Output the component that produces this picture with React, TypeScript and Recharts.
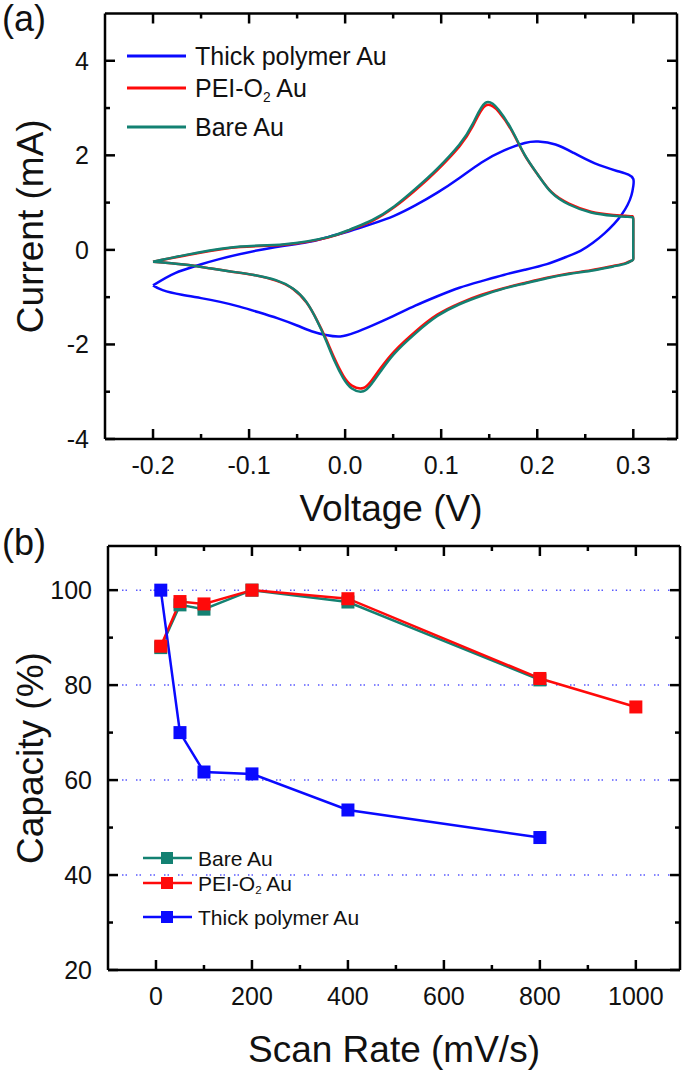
import React from 'react';
import { LineChart, Line, XAxis, YAxis, ReferenceLine, Legend, Label } from 'recharts';

const FONT = '"Liberation Sans", Arial, sans-serif';

const BLUE = '#0a0aff';
const RED = '#ff0a0a';
const TEAL = '#138172';

// (a) cyclic voltammograms, [voltage (V), current (mA)] in scan order round each loop
const thickCV: [number, number][] = [
  [-0.2, -0.75], [-0.177, -0.49], [-0.154, -0.33], [-0.132, -0.2], [-0.086, 0.01], [-0.04, 0.16],
  [-0.018, 0.27], [0.005, 0.4], [0.028, 0.55], [0.051, 0.72], [0.073, 0.94], [0.096, 1.21],
  [0.119, 1.52], [0.142, 1.85], [0.165, 2.1], [0.187, 2.26], [0.201, 2.29], [0.219, 2.23],
  [0.238, 2.05], [0.26, 1.83], [0.283, 1.67], [0.295, 1.59], [0.3, 1.5], [0.3, 1.35], [0.298, 1.15],
  [0.294, 0.95], [0.288, 0.75], [0.28, 0.55], [0.27, 0.35], [0.258, 0.15], [0.245, -0.02],
  [0.23, -0.15], [0.21, -0.3], [0.187, -0.42], [0.165, -0.53], [0.142, -0.66], [0.119, -0.8],
  [0.096, -0.98], [0.073, -1.18], [0.05, -1.4], [0.028, -1.6], [0.01, -1.75], [-0.005, -1.83],
  [-0.02, -1.8], [-0.035, -1.72], [-0.05, -1.6], [-0.07, -1.45], [-0.09, -1.32], [-0.11, -1.2],
  [-0.13, -1.1], [-0.15, -1.02], [-0.17, -0.95], [-0.19, -0.85], [-0.2, -0.75],
];

const peiCV: [number, number][] = [
  [-0.2, -0.25], [-0.154, -0.07], [-0.109, 0.06], [-0.063, 0.11], [-0.018, 0.26], [0.005, 0.42],
  [0.028, 0.61], [0.051, 0.9], [0.073, 1.26], [0.096, 1.69], [0.119, 2.19], [0.133, 2.62],
  [0.146, 3.05], [0.16, 2.92], [0.174, 2.5], [0.187, 2.0], [0.201, 1.58], [0.215, 1.22],
  [0.233, 0.98], [0.256, 0.81], [0.279, 0.74], [0.292, 0.72], [0.299, 0.71], [0.3, 0.6],
  [0.3, 0.2], [0.3, -0.15], [0.299, -0.22], [0.292, -0.28], [0.279, -0.34],
  [0.256, -0.43], [0.233, -0.5], [0.21, -0.59], [0.187, -0.7], [0.165, -0.81], [0.142, -0.95],
  [0.119, -1.13], [0.096, -1.37], [0.073, -1.73], [0.051, -2.15], [0.037, -2.5], [0.028, -2.75],
  [0.019, -2.92], [0.007, -2.87], [-0.002, -2.66], [-0.011, -2.3], [-0.02, -1.88], [-0.029, -1.5],
  [-0.04, -1.12], [-0.054, -0.83], [-0.072, -0.65], [-0.095, -0.53], [-0.118, -0.46],
  [-0.141, -0.39], [-0.168, -0.31], [-0.2, -0.25],
];

const bareCV: [number, number][] = [
  [-0.2, -0.25], [-0.154, -0.06], [-0.109, 0.07], [-0.063, 0.12], [-0.018, 0.27], [0.005, 0.43],
  [0.028, 0.63], [0.051, 0.92], [0.073, 1.29], [0.096, 1.72], [0.119, 2.23], [0.133, 2.67],
  [0.146, 3.11], [0.16, 2.96], [0.174, 2.52], [0.187, 2.01], [0.201, 1.58], [0.215, 1.21],
  [0.233, 0.96], [0.256, 0.79], [0.279, 0.72], [0.292, 0.7], [0.299, 0.69], [0.3, 0.58],
  [0.3, 0.2], [0.3, -0.15], [0.299, -0.22], [0.292, -0.29], [0.279, -0.35],
  [0.256, -0.44], [0.233, -0.51], [0.21, -0.6], [0.187, -0.71], [0.165, -0.82], [0.142, -0.97],
  [0.119, -1.15], [0.096, -1.4], [0.073, -1.77], [0.051, -2.2], [0.037, -2.57], [0.028, -2.82],
  [0.019, -2.99], [0.007, -2.93], [-0.002, -2.71], [-0.011, -2.35], [-0.02, -1.91], [-0.029, -1.51],
  [-0.04, -1.11], [-0.054, -0.82], [-0.072, -0.64], [-0.095, -0.53], [-0.118, -0.46],
  [-0.141, -0.39], [-0.168, -0.31], [-0.2, -0.25],
];

const CV_X_TICKS = [-0.2, -0.15, -0.1, -0.05, 0, 0.05, 0.1, 0.15, 0.2, 0.25, 0.3];
const CV_Y_TICKS = [-4, -3, -2, -1, 0, 1, 2, 3, 4];

// (b) capacity retention vs scan rate
const scanRates = [10, 50, 100, 200, 400, 800, 1000];
const bareCap = [87.9, 96.9, 96.0, 100, 97.5, 81.1];
const peiCap = [88.2, 97.6, 97.1, 100, 98.2, 81.4, 75.4];
const thickCap = [100, 70.0, 61.7, 61.3, 53.7, 47.9];

const RATE_TICKS = [0, 100, 200, 300, 400, 500, 600, 700, 800, 900, 1000];
const CAP_TICKS = [20, 30, 40, 50, 60, 70, 80, 90, 100];
const GRID_LEVELS = [40, 60, 80, 100];

const toCV = (pts: [number, number][]) => pts.map(([v, i]) => ({ v, i }));
const toCap = (vals: number[]) => vals.map((c, k) => ({ rate: scanRates[k], cap: c }));

type Side = 'bottom' | 'left' | 'top' | 'right';

const makeTick = (side: Side, isMajor: (v: number) => boolean, fmt: ((v: number) => string) | null, fontSize: number) =>
  (props: any) => {
    const { x, y, payload } = props;
    const v = payload.value;
    const len = isMajor(v) ? 10 : 5;
    let line = null;
    let text = null;
    if (side === 'bottom') {
      line = <line x1={x} y1={y} x2={x} y2={y - len} stroke="#000" strokeWidth={2.5} />;
      if (fmt && isMajor(v)) text = <text x={x} y={y + 35} textAnchor="middle" fontSize={fontSize} fontFamily={FONT} fill="#111">{fmt(v)}</text>;
    } else if (side === 'top') {
      line = <line x1={x} y1={y} x2={x} y2={y + len} stroke="#000" strokeWidth={2.5} />;
    } else if (side === 'left') {
      line = <line x1={x} y1={y} x2={x + len} y2={y} stroke="#000" strokeWidth={2.5} />;
      if (fmt && isMajor(v)) text = <text x={x - 16} y={y} dy="0.36em" textAnchor="end" fontSize={fontSize} fontFamily={FONT} fill="#111">{fmt(v)}</text>;
    } else {
      line = <line x1={x} y1={y} x2={x - len} y2={y} stroke="#000" strokeWidth={2.5} />;
    }
    return <g>{line}{text}</g>;
  };

const near = (a: number, step: number) => Math.abs(a / step - Math.round(a / step)) < 1e-6;

const axisLine = { stroke: '#000', strokeWidth: 2.5 };

const Sub = ({ x, y, size, pre, post }: { x: number; y: number; size: number; pre: string; post: string }) => (
  <text x={x} y={y} fontSize={size} fontFamily={FONT} fill="#111" dominantBaseline="central">
    {pre}
    <tspan dy={size * 0.35} fontSize={size * 0.55}>2</tspan>
    <tspan dy={-size * 0.35}>{post}</tspan>
  </text>
);

const CVLegend = () => (
  <svg width={290} height={125} style={{ display: 'block' }}>
    <line x1={0} y1={20} x2={59} y2={20} stroke={BLUE} strokeWidth={3} />
    <text x={68} y={20} fontSize={25} fontFamily={FONT} fill="#111" dominantBaseline="central">Thick polymer Au</text>
    <line x1={0} y1={52} x2={59} y2={52} stroke={RED} strokeWidth={3} />
    <Sub x={68} y={52} size={25} pre="PEI-O" post=" Au" />
    <line x1={0} y1={91} x2={59} y2={91} stroke={TEAL} strokeWidth={3} />
    <text x={68} y={91} fontSize={25} fontFamily={FONT} fill="#111" dominantBaseline="central">Bare Au</text>
  </svg>
);

const CapLegend = () => {
  const rows = [
    { c: TEAL, y: 14 },
    { c: RED, y: 39 },
    { c: BLUE, y: 73 },
  ];
  return (
    <svg width={240} height={92} style={{ display: 'block' }}>
      {rows.map((r) => (
        <g key={r.y}>
          <line x1={0} y1={r.y} x2={49} y2={r.y} stroke={r.c} strokeWidth={2.5} />
          <rect x={18} y={r.y - 6} width={12} height={12} fill={r.c} />
        </g>
      ))}
      <text x={55} y={14} fontSize={21} fontFamily={FONT} fill="#111" dominantBaseline="central">Bare Au</text>
      <Sub x={55} y={39} size={21} pre="PEI-O" post=" Au" />
      <text x={55} y={73} fontSize={21} fontFamily={FONT} fill="#111" dominantBaseline="central">Thick polymer Au</text>
    </svg>
  );
};

const square = (color: string) => (p: any) => (
  <rect key={`sq-${p.index}`} x={p.cx - 6.5} y={p.cy - 6.5} width={13} height={13} fill={color} />
);

export default function App() {
  const cvMajX = (v: number) => near(v, 0.1);
  const cvMajY = (v: number) => near(v, 2);
  const capMajX = (v: number) => near(v, 200);
  const capMajY = (v: number) => near(v, 20);
  return (
    <div style={{ position: 'absolute', left: 0, top: 0, width: 685, height: 1081, background: '#fff' }}>
      <div style={{ position: 'absolute', left: 2, top: -2, fontSize: 36, fontFamily: FONT, color: '#111', lineHeight: '42px' }}>(a)</div>
      <div style={{ position: 'absolute', left: 0, top: 0 }}>
        <LineChart width={685} height={540} margin={{ top: 0, right: 0, bottom: 0, left: 0 }}>
          <XAxis xAxisId="b" dataKey="v" type="number" domain={[-0.25, 0.3455]} allowDataOverflow ticks={CV_X_TICKS}
            interval={0} height={101} tickSize={0} tickMargin={0} tickLine={false} axisLine={axisLine}
            tick={makeTick('bottom', cvMajX, (v) => v.toFixed(1), 25)}>
            <Label content={({ viewBox }: any) => (
              <text x={viewBox.x + viewBox.width / 2} y={viewBox.y + 82} textAnchor="middle" fontSize={37} fontFamily={FONT} fill="#111">Voltage (V)</text>
            )} />
          </XAxis>
          <XAxis xAxisId="t" orientation="top" dataKey="v" type="number" domain={[-0.25, 0.3455]} allowDataOverflow ticks={CV_X_TICKS}
            interval={0} height={13.5} tickSize={0} tickMargin={0} tickLine={false} axisLine={axisLine}
            tick={makeTick('top', cvMajX, null, 25)} />
          <YAxis yAxisId="l" type="number" domain={[-4, 5]} allowDataOverflow ticks={CV_Y_TICKS} interval={0}
            width={105} tickSize={0} tickMargin={0} tickLine={false} axisLine={axisLine}
            tick={makeTick('left', cvMajY, (v) => String(v), 25)}>
            <Label content={({ viewBox }: any) => {
              const cx = 30;
              const cy = viewBox.y + viewBox.height / 2;
              return <text x={cx} y={cy} transform={`rotate(-90 ${cx} ${cy})`} textAnchor="middle" dominantBaseline="central" fontSize={37} fontFamily={FONT} fill="#111">Current (mA)</text>;
            }} />
          </YAxis>
          <YAxis yAxisId="r" orientation="right" type="number" domain={[-4, 5]} allowDataOverflow ticks={CV_Y_TICKS} interval={0}
            width={8} tickSize={0} tickMargin={0} tickLine={false} axisLine={axisLine}
            tick={makeTick('right', cvMajY, null, 25)} />
          <Legend layout="vertical" align="center" verticalAlign="middle" content={() => <CVLegend />}
            wrapperStyle={{ position: 'absolute', left: 127, top: 36, width: 290, height: 125 }} />
          <Line xAxisId="b" yAxisId="l" data={toCV(thickCV)} dataKey="i" name="Thick polymer Au" type="natural" dot={false}
            stroke={BLUE} strokeWidth={2.5} isAnimationActive={false} />
          <Line xAxisId="b" yAxisId="l" data={toCV(peiCV)} dataKey="i" name="PEI-O2 Au" type="natural" dot={false}
            stroke={RED} strokeWidth={2.5} isAnimationActive={false} />
          <Line xAxisId="b" yAxisId="l" data={toCV(bareCV)} dataKey="i" name="Bare Au" type="natural" dot={false}
            stroke={TEAL} strokeWidth={2.5} isAnimationActive={false} />
        </LineChart>
      </div>

      <div style={{ position: 'absolute', left: 2, top: 522, fontSize: 36, fontFamily: FONT, color: '#111', lineHeight: '42px' }}>(b)</div>
      <div style={{ position: 'absolute', left: 0, top: 540 }}>
        <LineChart width={685} height={541} margin={{ top: 0, right: 0, bottom: 0, left: 0 }}>
          <XAxis xAxisId="b" dataKey="rate" type="number" domain={[-100, 1092]} allowDataOverflow ticks={RATE_TICKS}
            interval={0} height={111} tickSize={0} tickMargin={0} tickLine={false} axisLine={axisLine}
            tick={makeTick('bottom', capMajX, (v) => String(v), 25)}>
            <Label content={({ viewBox }: any) => (
              <text x={viewBox.x + viewBox.width / 2} y={viewBox.y + 92} textAnchor="middle" fontSize={37} fontFamily={FONT} fill="#111">Scan Rate (mV/s)</text>
            )} />
          </XAxis>
          <XAxis xAxisId="t" orientation="top" dataKey="rate" type="number" domain={[-100, 1092]} allowDataOverflow ticks={RATE_TICKS}
            interval={0} height={6} tickSize={0} tickMargin={0} tickLine={false} axisLine={axisLine}
            tick={makeTick('top', capMajX, null, 25)} />
          <YAxis yAxisId="l" type="number" domain={[20, 109.3]} allowDataOverflow ticks={CAP_TICKS} interval={0}
            width={108} tickSize={0} tickMargin={0} tickLine={false} axisLine={axisLine}
            tick={makeTick('left', capMajY, (v) => String(v), 25)}>
            <Label content={({ viewBox }: any) => {
              const cx = 30;
              const cy = viewBox.y + viewBox.height / 2;
              return <text x={cx} y={cy} transform={`rotate(-90 ${cx} ${cy})`} textAnchor="middle" dominantBaseline="central" fontSize={37} fontFamily={FONT} fill="#111">Capacity (%)</text>;
            }} />
          </YAxis>
          <YAxis yAxisId="r" orientation="right" type="number" domain={[20, 109.3]} allowDataOverflow ticks={CAP_TICKS} interval={0}
            width={5} tickSize={0} tickMargin={0} tickLine={false} axisLine={axisLine}
            tick={makeTick('right', capMajY, null, 25)} />
          {GRID_LEVELS.map((g) => (
            <ReferenceLine key={g} xAxisId="b" yAxisId="l" y={g} stroke="#5a5aff" strokeWidth={1.5} strokeDasharray="1.5 2 1.5 9" />
          ))}
          <Legend layout="vertical" align="center" verticalAlign="middle" content={() => <CapLegend />}
            wrapperStyle={{ position: 'absolute', left: 143, top: 304, width: 240, height: 92 }} />
          <Line xAxisId="b" yAxisId="l" data={toCap(bareCap)} dataKey="cap" name="Bare Au" type="linear"
            stroke={TEAL} strokeWidth={2.5} dot={square(TEAL)} isAnimationActive={false} />
          <Line xAxisId="b" yAxisId="l" data={toCap(peiCap)} dataKey="cap" name="PEI-O2 Au" type="linear"
            stroke={RED} strokeWidth={2.5} dot={square(RED)} isAnimationActive={false} />
          <Line xAxisId="b" yAxisId="l" data={toCap(thickCap)} dataKey="cap" name="Thick polymer Au" type="linear"
            stroke={BLUE} strokeWidth={2.5} dot={square(BLUE)} isAnimationActive={false} />
        </LineChart>
      </div>
    </div>
  );
}
